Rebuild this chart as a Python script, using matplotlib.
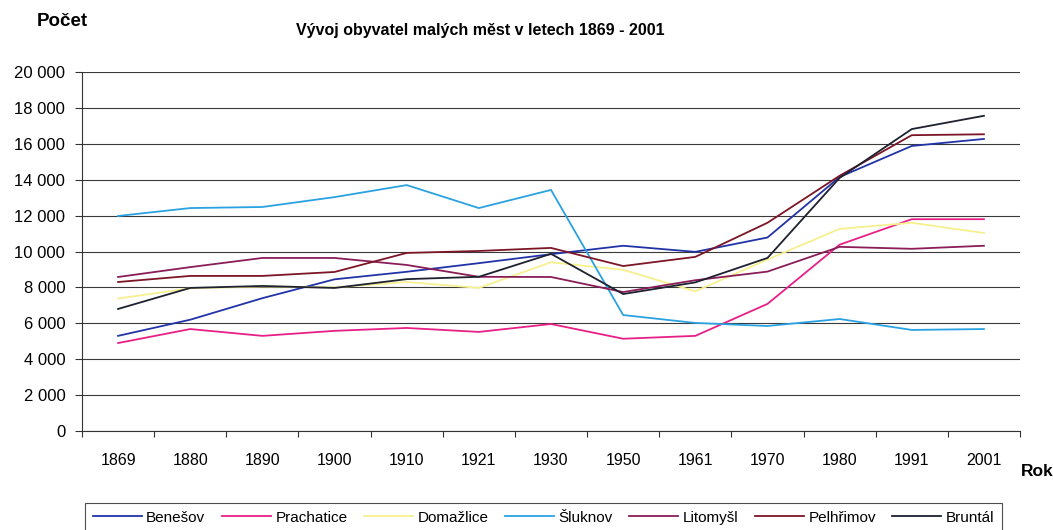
import numpy as np
import matplotlib
matplotlib.use('Agg')
import matplotlib.pyplot as plt
from matplotlib.ticker import FuncFormatter

plt.rcParams['font.family'] = ['Liberation Sans', 'DejaVu Sans']

# roky scitani
years = ['1869', '1880', '1890', '1900', '1910', '1921', '1930',
         '1950', '1961', '1970', '1980', '1991', '2001']

benesov = [5300, 6200, 7400, 8450, 8870, 9350, 9850, 10320, 9980, 10780, 14150, 15880, 16270]
prachatice = [4900, 5680, 5300, 5580, 5740, 5520, 5960, 5140, 5300, 7080, 10380, 11800, 11800]
domazlice = [7380, 7950, 8050, 8000, 8300, 7970, 9400, 8980, 7780, 9550, 11260, 11600, 11030]
sluknov = [11980, 12420, 12480, 13030, 13700, 12420, 13430, 6460, 6020, 5850, 6240, 5630, 5680]
litomysl = [8580, 9130, 9640, 9640, 9250, 8590, 8580, 7740, 8400, 8880, 10260, 10150, 10320]
pelhrimov = [8300, 8640, 8640, 8860, 9920, 10030, 10200, 9190, 9700, 11600, 14220, 16480, 16530]
bruntal = [6800, 7970, 8080, 7970, 8460, 8590, 9870, 7630, 8280, 9640, 14100, 16820, 17560]

series = [
    ('Benešov', benesov, '#2233a8'),
    ('Prachatice', prachatice, '#e81f86'),
    ('Domažlice', domazlice, '#f6f08e'),
    ('Šluknov', sluknov, '#2aa2e2'),
    ('Litomyšl', litomysl, '#8a1d58'),
    ('Pelhřimov', pelhrimov, '#7c1626'),
    ('Bruntál', bruntal, '#1d2130'),
]

fig = plt.figure(figsize=(10.53, 5.30), dpi=100)
ax = fig.add_axes([82 / 1053, 1 - 431 / 530, (1020 - 82) / 1053, (431 - 72) / 530])

x = np.arange(len(years))
for name, vals, col in series:
    ax.plot(x, vals, color=col, lw=1.3, label=name, zorder=3)

ax.set_xlim(-0.5, len(years) - 0.5)
ax.set_ylim(0, 20000)
ax.set_yticks(np.arange(0, 20001, 2000))
ax.yaxis.set_major_formatter(FuncFormatter(lambda v, p: '{:,.0f}'.format(v).replace(',', ' ')))
ax.grid(axis='y', color='#3a3a3a', lw=0.8, zorder=1)

# ticky mezi kategoriemi, popisky uprostred
ax.set_xticks(np.arange(-0.5, len(years), 1.0))
ax.set_xticklabels([])
ax.set_xticks(x, minor=True)
ax.set_xticklabels(years, minor=True)
ax.tick_params(axis='x', which='major', length=4, width=0.8, color='#333333')
ax.tick_params(axis='x', which='minor', length=0, pad=16, labelsize=11.5)
ax.tick_params(axis='y', length=5, width=0.8, color='#333333', pad=7, labelsize=12)

for s in ['top', 'right']:
    ax.spines[s].set_visible(False)
for s in ['left', 'bottom']:
    ax.spines[s].set_color('#333333')
    ax.spines[s].set_linewidth(0.8)

fig.text(37 / 1053, 1 - 22 / 530, 'Počet', fontsize=13.5, fontweight='bold', va='center', ha='left')
fig.text(480 / 1053, 1 - 30 / 530, 'Vývoj obyvatel malých měst v letech 1869 - 2001',
         fontsize=11.5, fontweight='bold', va='center', ha='center')
fig.text(1021 / 1053, 1 - 471 / 530, 'Rok', fontsize=12.5, fontweight='bold', va='center', ha='left')

leg = fig.legend(loc='upper left', bbox_to_anchor=(85 / 1053, 1 - 503 / 530, (1002 - 85) / 1053, 0.0),
                 mode='expand', ncol=7, fontsize=11, frameon=True, fancybox=False,
                 handlelength=3.2, handletextpad=0.3, borderpad=0.5, borderaxespad=0)
leg.get_frame().set_edgecolor('#222222')
leg.get_frame().set_linewidth(0.8)

fig.savefig('out.png', dpi=100)
